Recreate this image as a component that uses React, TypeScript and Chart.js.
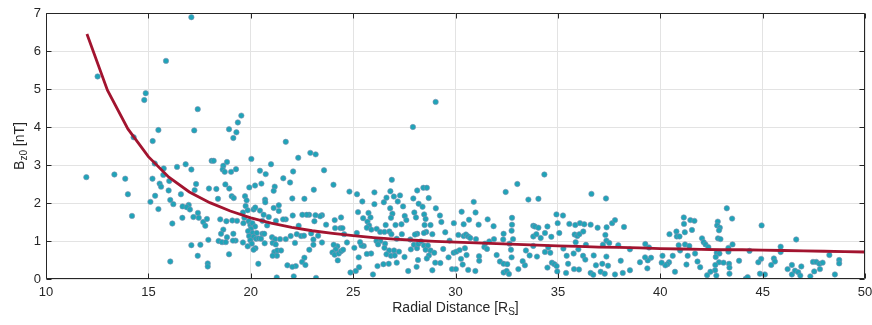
import React, { useEffect, useRef } from "react";
import { Chart, registerables } from "chart.js";

Chart.register(...registerables);

// Fitted curve (radial distance in R_S, Bz0 in nT)
const fitRadius = [12, 13, 14, 15, 16, 17, 18, 19, 20, 21, 22, 23, 24, 25, 26, 27, 28, 29, 30, 31, 32, 33, 34, 35, 36, 37, 38, 39, 40, 41, 42, 43, 44, 45, 46, 47, 48, 49, 50];
const fitBz0 = [6.45, 4.97, 3.95, 3.22, 2.68, 2.29, 2.01, 1.79, 1.61, 1.47, 1.36, 1.27, 1.2, 1.14, 1.09, 1.05, 1.02, 0.99, 0.97, 0.95, 0.93, 0.91, 0.89, 0.87, 0.86, 0.84, 0.83, 0.82, 0.8, 0.79, 0.78, 0.77, 0.77, 0.76, 0.75, 0.74, 0.73, 0.72, 0.71];

// Observations: [radial distance, Bz0]
const obsNear: [number, number][] = [
  [11.97, 2.68], [12.52, 5.33], [13.34, 2.75], [13.87, 2.64], [14.0, 2.23], [14.2, 1.66], [14.28, 3.73], [14.8, 4.71], [14.87, 4.89],
  [15.21, 3.63], [15.31, 3.04], [15.49, 3.92], [15.86, 5.74], [17.1, 6.89], [17.41, 4.47], [17.24, 3.91], [19.54, 4.3], [19.37, 4.12],
  [18.94, 3.94], [19.15, 3.71], [19.3, 3.86], [21.71, 3.61], [22.32, 3.19],
  [15.75, 2.91], [15.2, 2.64], [15.73, 2.74], [15.55, 2.51], [15.62, 2.43], [16.02, 2.58], [15.99, 2.33], [15.33, 2.19], [15.1, 2.03],
  [16.07, 2.08], [16.22, 1.97], [15.49, 1.84], [16.17, 1.46], [16.07, 0.46],
];

const obsInner: [number, number][] = [
  [16.4, 2.95], [16.82, 3.02], [17.1, 2.88], [18.09, 3.11], [18.19, 3.11], [18.84, 3.08], [18.66, 2.98], [18.63, 2.88], [18.73, 2.82],
  [19.04, 2.82], [19.28, 2.89], [20.03, 3.16], [20.99, 3.02], [20.45, 2.85], [20.73, 2.76], [21.59, 2.65], [21.17, 2.43], [21.12, 2.32],
  [17.33, 2.5], [17.26, 2.34], [18.76, 2.49], [18.95, 2.38], [17.96, 2.38], [18.32, 2.37], [19.93, 2.41], [20.21, 2.46], [20.52, 2.51],
  [16.59, 2.23], [19.07, 2.18], [19.17, 2.13], [19.72, 2.18], [18.4, 2.11], [19.8, 2.07], [20.7, 2.09], [20.71, 2.02], [21.37, 1.94],
  [16.67, 1.91], [16.97, 1.95], [16.87, 1.89], [17.03, 1.83], [16.66, 1.61], [17.2, 1.63], [17.42, 1.74], [17.46, 1.61], [17.68, 1.5],
  [17.86, 1.58], [17.78, 1.4], [17.93, 1.03], [18.51, 1.57], [18.81, 1.52], [19.1, 1.54], [19.33, 1.53], [19.62, 1.75], [19.75, 1.92],
  [19.85, 1.81], [20.14, 1.83], [20.22, 1.88], [20.45, 1.8], [20.63, 1.69], [20.88, 1.63], [21.12, 1.87], [21.37, 1.79], [21.71, 1.57],
  [21.58, 1.57], [21.23, 1.53], [20.8, 1.41], [20.57, 1.53], [19.69, 1.61], [19.64, 1.47], [19.9, 1.52], [19.98, 1.42], [20.08, 1.47],
  [20.21, 1.38], [20.01, 1.32], [19.87, 1.26], [20.09, 1.21], [20.29, 1.21], [19.92, 1.13], [20.14, 1.11], [19.98, 1.02], [20.05, 0.93],
  [20.26, 1.06], [20.39, 1.07], [20.57, 1.19], [20.66, 1.19], [20.5, 1.06], [20.68, 0.94], [20.23, 0.81], [20.14, 0.77], [19.85, 0.86],
  [19.62, 0.96], [19.26, 1.01], [19.13, 1.01], [19.15, 1.19], [18.84, 1.1], [18.66, 1.3], [18.55, 1.19], [18.43, 1.0], [18.6, 0.97],
  [18.78, 0.97], [17.54, 0.9], [17.1, 0.89], [17.41, 0.61], [17.9, 0.41], [17.9, 0.33], [18.94, 0.65], [20.37, 0.4], [21.04, 1.1],
  [21.19, 1.05], [21.07, 0.95], [21.22, 0.91], [21.15, 0.71], [21.3, 0.75], [21.48, 0.75], [21.28, 0.61], [21.07, 0.61], [21.43, 1.05],
  [21.71, 1.05], [21.79, 0.36], [21.27, 0.04],
];

const obsMiddle: [number, number][] = [
  [22.91, 3.32], [23.17, 3.28], [22.07, 2.83], [23.58, 2.86], [21.92, 2.54], [23.08, 2.35], [24.04, 2.48], [24.82, 2.3], [22.03, 2.12],
  [22.62, 2.11], [26.89, 2.61], [26.82, 2.31], [26.04, 2.28], [25.19, 2.23], [25.45, 2.04], [26.04, 1.97], [26.5, 2.02], [26.63, 2.14],
  [26.99, 2.17], [27.29, 2.2], [27.18, 2.04], [27.44, 1.91], [26.81, 1.86], [26.92, 1.72], [26.85, 1.61], [27.52, 1.66], [27.36, 1.44],
  [25.24, 1.76], [25.75, 1.74], [25.49, 1.6], [25.85, 1.62], [25.7, 1.51], [25.78, 1.41], [25.67, 1.35], [25.89, 1.3], [26.15, 1.32],
  [26.32, 1.24], [26.53, 1.24], [26.59, 1.42], [26.77, 1.25], [27.07, 1.42], [27.38, 1.18], [26.87, 1.18], [27.13, 1.06], [26.33, 1.0],
  [26.14, 1.0], [26.22, 0.91], [26.56, 0.93], [26.53, 0.82], [26.76, 0.75], [27.0, 0.75], [26.63, 0.65], [26.85, 0.61], [27.03, 0.62],
  [27.24, 0.72], [27.13, 0.43], [27.51, 0.58], [26.74, 0.4], [26.48, 0.39], [26.19, 0.34], [25.97, 0.12], [25.88, 0.67], [25.67, 0.66],
  [25.52, 0.87], [25.41, 0.88], [25.34, 0.97], [25.18, 1.21], [25.06, 0.82], [25.27, 0.57], [25.29, 0.31], [25.13, 0.21], [24.87, 0.17],
  [24.7, 0.96], [24.41, 1.62], [24.1, 1.55], [24.12, 1.34], [24.38, 1.34], [24.48, 1.34], [24.56, 1.18], [24.23, 0.86], [24.05, 0.9],
  [24.15, 0.78], [23.99, 0.7], [24.1, 0.64], [24.3, 0.67], [24.41, 0.73], [24.51, 0.77], [24.25, 0.49], [23.68, 1.43], [23.48, 1.68],
  [23.39, 1.65], [23.16, 1.68], [22.85, 1.69], [22.73, 1.69], [22.52, 1.69], [22.05, 1.67], [22.34, 1.4], [23.11, 1.52], [22.95, 1.2],
  [23.29, 1.14], [21.95, 1.13], [22.25, 1.18], [22.46, 1.13], [22.6, 1.14], [22.16, 0.95], [23.06, 1.04], [23.06, 0.9], [23.48, 0.96],
  [22.86, 0.77], [22.62, 0.56], [22.51, 0.45], [22.67, 0.37], [22.2, 0.34], [22.03, 0.32], [22.1, 0.07], [23.19, 0.03],
];

const obsOuter: [number, number][] = [
  [29.03, 4.66], [27.92, 4.0], [33.02, 2.5], [32.45, 2.29], [34.34, 2.75], [33.56, 2.09], [34.05, 2.11],
  [28.43, 2.4], [28.6, 2.4], [28.13, 2.33], [27.94, 2.12], [28.69, 2.13], [28.2, 1.98], [28.39, 1.9], [29.04, 1.86], [30.89, 2.03],
  [27.99, 1.75], [28.47, 1.7], [29.24, 1.67], [30.3, 1.77], [30.98, 1.75], [28.07, 1.62], [28.54, 1.58], [27.6, 1.55], [29.31, 1.5],
  [30.66, 1.56], [31.57, 1.57], [32.76, 1.61], [28.49, 1.42], [28.78, 1.42], [29.92, 1.47], [30.4, 1.44], [31.13, 1.43], [31.86, 1.39],
  [32.76, 1.43], [32.74, 1.27], [28.57, 1.24], [28.46, 1.21], [28.13, 1.19], [28.02, 1.17], [29.5, 1.23], [28.87, 1.18], [30.14, 1.16],
  [30.4, 1.13], [30.51, 1.17], [30.62, 1.12], [30.72, 1.08], [31.0, 1.05], [29.71, 1.01], [31.65, 0.99], [31.44, 0.93], [31.41, 0.84],
  [31.54, 0.79], [31.88, 1.05], [32.35, 1.19], [32.33, 1.04], [32.64, 0.93], [32.81, 1.05], [32.71, 0.77], [27.79, 1.04], [27.97, 0.9],
  [27.82, 0.78], [28.12, 0.81], [28.18, 0.92], [28.31, 0.99], [28.46, 0.88], [28.65, 0.88], [28.54, 0.77], [28.78, 0.75], [28.96, 0.69],
  [28.7, 0.62], [28.6, 0.54], [29.01, 0.43], [29.26, 0.42], [29.4, 0.79], [28.17, 0.5], [28.1, 0.32], [27.69, 0.21], [28.87, 0.23],
  [29.66, 0.57], [29.91, 0.69], [30.04, 0.72], [30.2, 0.76], [30.46, 0.81], [30.54, 0.63], [30.27, 0.53], [30.35, 0.38], [29.83, 0.26],
  [30.02, 0.26], [30.62, 0.24], [30.97, 0.21], [31.15, 0.6], [31.16, 0.48], [32.01, 0.63], [32.17, 0.46], [32.35, 0.4], [32.53, 0.39],
  [32.35, 0.17], [32.5, 0.21], [32.61, 0.13], [32.74, 0.57], [33.07, 0.26],
];

const obsFar: [number, number][] = [
  [36.64, 2.24], [37.35, 2.12], [34.93, 1.7], [35.25, 1.67], [33.8, 1.4], [33.88, 1.38], [34.05, 1.35], [34.49, 1.38], [34.99, 1.47],
  [35.56, 1.45], [35.85, 1.42], [36.08, 1.47], [36.29, 1.44], [36.6, 1.43], [36.94, 1.35], [37.38, 1.36], [37.65, 1.47], [37.79, 1.55],
  [38.23, 1.37], [33.8, 1.12], [33.95, 1.18], [34.16, 1.08], [34.37, 1.21], [34.68, 1.11], [35.07, 1.21], [35.82, 1.17], [35.95, 1.13],
  [36.05, 1.18], [36.24, 1.25], [35.87, 0.97], [37.32, 1.16], [37.37, 1.01], [37.51, 0.95], [37.2, 0.9], [37.95, 0.89], [36.37, 0.9],
  [33.8, 0.87], [33.44, 0.75], [33.62, 0.62], [33.98, 0.59], [34.53, 0.83], [34.37, 0.71], [34.63, 0.69], [35.27, 0.8], [35.43, 0.61],
  [35.77, 0.67], [36.0, 0.78], [36.23, 0.61], [36.34, 0.51], [36.75, 0.62], [37.37, 0.59], [38.07, 0.48], [38.52, 0.78], [33.39, 0.36],
  [33.28, 0.47], [34.49, 0.3], [34.71, 0.43], [34.83, 0.39], [34.94, 0.34], [34.97, 0.2], [35.4, 0.16], [35.5, 0.4], [35.79, 0.26],
  [36.03, 0.25], [36.6, 0.16], [36.73, 0.11], [36.86, 0.36], [37.17, 0.4], [37.45, 0.35], [37.09, 0.19], [37.29, 0.14], [37.79, 0.12],
  [38.17, 0.16], [38.52, 0.23],
  [43.25, 1.86], [43.51, 1.59], [41.15, 1.62], [41.47, 1.55], [41.67, 1.53], [41.16, 1.45], [41.55, 1.29], [40.79, 1.25], [41.2, 1.23],
  [40.45, 1.18], [40.81, 1.12], [40.94, 1.12], [42.81, 1.51], [42.78, 1.41], [42.91, 1.35], [42.87, 1.28], [42.82, 1.07], [42.94, 1.05],
  [42.04, 1.07], [42.12, 0.97], [42.21, 0.91], [42.35, 0.84], [39.27, 0.92], [39.45, 0.83], [40.9, 0.89], [41.21, 0.91], [41.42, 0.87],
  [40.97, 0.75], [43.53, 0.91], [43.33, 0.82], [43.33, 0.72], [42.76, 0.69], [42.89, 0.67], [42.71, 0.58], [42.87, 0.44], [43.09, 0.43],
  [43.36, 0.4], [43.38, 0.3], [43.38, 0.14], [43.85, 0.48], [44.36, 0.74], [44.18, 0.01], [44.27, 0.05], [42.69, 0.37], [42.68, 0.23],
  [42.74, 0.09], [42.45, 0.19], [42.29, 0.1], [41.95, 0.31], [41.82, 0.46], [41.7, 0.67], [41.34, 0.61], [41.28, 0.38], [40.72, 0.19],
  [40.61, 0.61], [40.43, 0.44], [40.35, 0.39], [40.25, 0.36], [40.07, 0.43], [40.11, 0.61], [39.55, 0.56], [39.39, 0.49], [39.26, 0.57],
  [39.37, 0.28], [39.01, 0.44],
  [44.95, 1.41], [46.64, 1.04], [45.88, 0.85], [45.88, 0.71], [44.93, 0.53], [44.79, 0.44], [45.55, 0.54], [45.6, 0.46], [45.42, 0.37],
  [44.87, 0.14], [45.11, 0.12], [46.22, 0.26], [46.43, 0.37], [46.43, 0.12], [46.58, 0.22], [46.74, 0.18], [46.89, 0.33], [46.84, 0.09],
  [47.46, 0.45], [47.62, 0.45], [47.77, 0.4], [47.93, 0.43], [47.8, 0.26], [47.52, 0.2], [47.33, 0.07], [48.26, 0.63], [48.74, 0.5],
  [48.74, 0.41], [48.53, 0.12],
];

const xTicks = [10, 15, 20, 25, 30, 35, 40, 45, 50];
const yTicks = [0, 1, 2, 3, 4, 5, 6, 7];

const FONT = "'Liberation Sans', Arial, Helvetica, sans-serif";
const INK = "#262626";

const framePlugin = {
  id: "frame",
  afterDraw(chart: any) {
    const { ctx, chartArea: a, scales } = chart;
    const x = scales.x;
    const y = scales.y;
    ctx.save();
    ctx.strokeStyle = INK;
    ctx.lineWidth = 1;
    ctx.beginPath();
    const L = Math.round(a.left) + 0.5;
    const R = Math.round(a.right) - 0.5;
    const T = Math.round(a.top) + 0.5;
    const B = Math.round(a.bottom) - 0.5;
    ctx.rect(L, T, R - L, B - T);
    xTicks.forEach((v) => {
      const px = Math.round(x.getPixelForValue(v)) + 0.5;
      ctx.moveTo(px, B);
      ctx.lineTo(px, B - 5);
      ctx.moveTo(px, T);
      ctx.lineTo(px, T + 5);
    });
    yTicks.forEach((v) => {
      const py = Math.round(y.getPixelForValue(v)) + 0.5;
      ctx.moveTo(L, py);
      ctx.lineTo(L + 5, py);
      ctx.moveTo(R, py);
      ctx.lineTo(R - 5, py);
    });
    ctx.stroke();

    // axis titles with subscripts
    ctx.fillStyle = INK;
    ctx.textBaseline = "alphabetic";
    const main = `14px ${FONT}`;
    const sub = `10px ${FONT}`;

    const parts: [string, string, number][] = [
      ["Radial Distance [R", main, 0],
      ["S", sub, 3],
      ["]", main, 0],
    ];
    const measure = (ps: [string, string, number][]) =>
      ps.reduce((w, p) => {
        ctx.font = p[1];
        return w + ctx.measureText(p[0]).width;
      }, 0);
    let w = measure(parts);
    let cx = (a.left + a.right) / 2 - w / 2;
    const by = 312;
    parts.forEach(([t, f, dy]) => {
      ctx.font = f;
      ctx.textAlign = "left";
      ctx.fillText(t, cx, by + dy);
      cx += ctx.measureText(t).width;
    });

    const yparts: [string, string, number][] = [
      ["B", main, 0],
      ["z0", sub, 3],
      [" [nT]", main, 0],
    ];
    w = measure(yparts);
    ctx.translate(24, (a.top + a.bottom) / 2);
    ctx.rotate(-Math.PI / 2);
    let cy = -w / 2;
    yparts.forEach(([t, f, dy]) => {
      ctx.font = f;
      ctx.fillText(t, cy, dy);
      cy += ctx.measureText(t).width;
    });
    ctx.restore();
  },
};

export default function App() {
  const ref = useRef<HTMLCanvasElement | null>(null);

  useEffect(() => {
    if (!ref.current) return;
    const toPts = (arr: [number, number][]) => arr.map(([r, b]) => ({ x: r, y: b }));
    const scatter = [obsNear, obsInner, obsMiddle, obsOuter, obsFar].flatMap(toPts);
    const fit = fitRadius.map((r, i) => ({ x: r, y: fitBz0[i] }));

    const chart = new Chart(ref.current, {
      type: "scatter",
      data: {
        datasets: [
          {
            type: "line",
            label: "fit",
            data: fit,
            borderColor: "#a2142f",
            borderWidth: 2.8,
            pointRadius: 0,
            tension: 0,
            fill: false,
            order: 0,
          } as any,
          {
            label: "observations",
            data: scatter,
            backgroundColor: "#1fa4b8",
            borderColor: "#8090b0",
            borderWidth: 0.6,
            pointRadius: 2.7,
            order: 1,
          },
        ],
      },
      options: {
        animation: false,
        responsive: false,
        devicePixelRatio: 1,
        layout: { padding: { top: 13, right: 7, left: 0, bottom: 0 } },
        plugins: { legend: { display: false }, tooltip: { enabled: false } },
        scales: {
          x: {
            type: "linear",
            min: 10,
            max: 50,
            afterBuildTicks: (s: any) => {
              s.ticks = xTicks.map((v) => ({ value: v }));
            },
            afterFit: (s: any) => {
              s.height = 46;
              s.paddingLeft = 0;
              s.paddingRight = 0;
            },
            grid: { color: "#e3e3e3", lineWidth: 1, drawTicks: false },
            border: { display: false },
            ticks: { color: INK, font: { family: FONT, size: 13 }, padding: 6, maxRotation: 0 },
          },
          y: {
            type: "linear",
            min: 0,
            max: 7,
            afterBuildTicks: (s: any) => {
              s.ticks = yTicks.map((v) => ({ value: v }));
            },
            afterFit: (s: any) => {
              s.width = 46;
              s.paddingTop = 0;
              s.paddingBottom = 0;
            },
            grid: { color: "#e3e3e3", lineWidth: 1, drawTicks: false },
            border: { display: false },
            ticks: { color: INK, font: { family: FONT, size: 13 }, padding: 5 },
          },
        },
      },
      plugins: [framePlugin],
    });
    return () => chart.destroy();
  }, []);

  return (
    <div style={{ position: "absolute", left: 0, top: 0, width: 872, height: 325, background: "#fff" }}>
      <canvas ref={ref} width={872} height={325} style={{ width: 872, height: 325 }} />
    </div>
  );
}
